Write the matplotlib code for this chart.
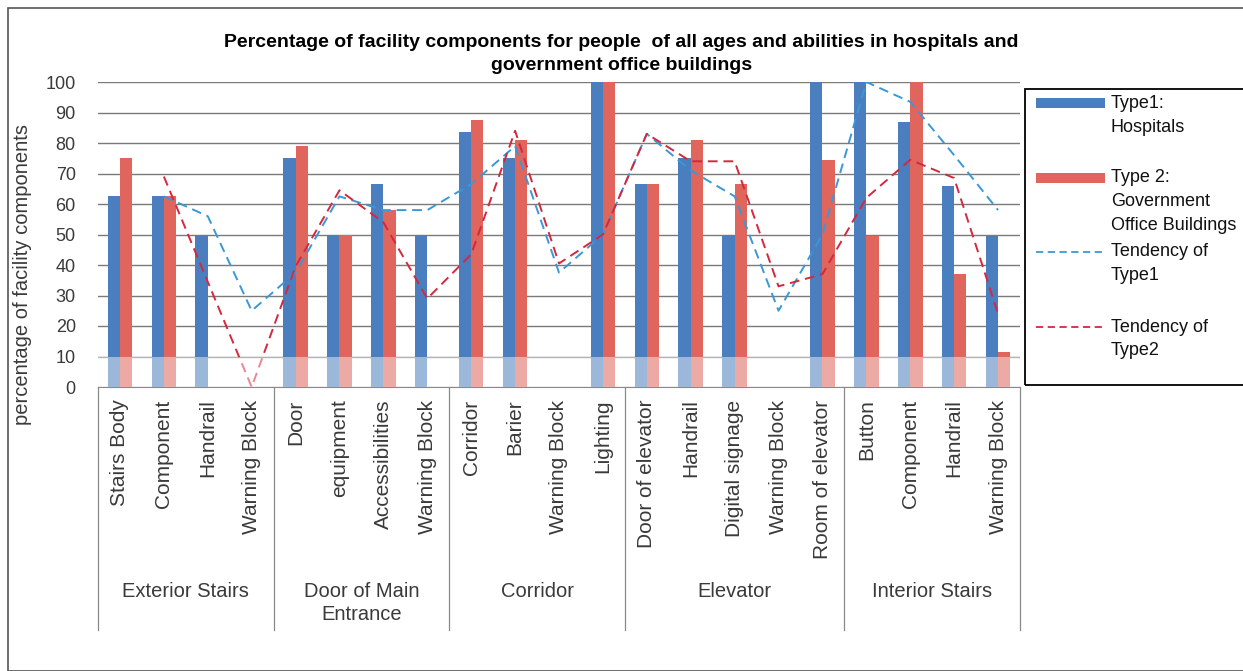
import numpy as np
import matplotlib
matplotlib.use("Agg")
import matplotlib.pyplot as plt
from matplotlib.patches import Rectangle
from matplotlib.lines import Line2D

plt.rcParams['font.family'] = ['Liberation Sans', 'DejaVu Sans']

# categories (multi-level axis)
items = ["Stairs Body", "Component", "Handrail", "Warning Block",
         "Door", "equipment", "Accessibilities", "Warning Block",
         "Corridor", "Barier", "Warning Block", "Lighting",
         "Door of elevator", "Handrail", "Digital signage", "Warning Block", "Room of elevator",
         "Button", "Component", "Handrail", "Warning Block"]
groups = ["Exterior Stairs", "Door of Main\nEntrance", "Corridor", "Elevator", "Interior Stairs"]
group_sizes = [4, 4, 4, 5, 4]

# bar values
type1 = [62.5, 62.5, 50, 0, 75, 50, 66.5, 50, 83.5, 75, 0, 100,
         66.5, 75, 50, 0, 100, 100, 87, 66, 49.5]
type2 = [75, 62.5, 0, 0, 79, 50, 58, 0, 87.5, 81, 0, 100,
         66.5, 81, 66.5, 0, 74.5, 49.5, 100, 37, 11.5]

# tendency lines
trend1_pos = list(range(1, 21))
trend1 = [62.5, 56, 25, 37.5, 62.5, 58, 58, 66.5, 79, 37.5, 50,
          83, 71, 62.5, 25, 50, 100, 93.5, 76, 58]
trend2_pos = [1] + list(range(3, 21))
trend2 = [69, 0, 39.5, 64.5, 54, 29, 43.5, 84, 40.5, 50,
          83, 74, 74, 33, 37, 62, 74.5, 68.5, 24]

legend_labels = ['Type1:\nHospitals', 'Type 2:\nGovernment\nOffice Buildings',
                 'Tendency of\nType1', 'Tendency of\nType2']

c_blue = '#4a7ebf'
c_red = '#e0655d'
c_tblue = '#3a98d6'
c_tred = '#d4283e'
c_text = '#3a3a3a'

W, H = 1243, 671
fig = plt.figure(figsize=(W / 100, H / 100), dpi=100)


def fx(px):
    return px / W


def fy(py):
    return 1 - py / H


# outer frame of the chart
fig.add_artist(Rectangle((fx(8), 0), 1.2, fy(8), transform=fig.transFigure,
                         fill=False, edgecolor='#555555', linewidth=1.2))

x0, x1, ytop, ybot = 98, 1020, 82, 387
ax = fig.add_axes([fx(x0), fy(ybot), (x1 - x0) / W, (ybot - ytop) / H])

x = np.arange(len(items))
bw = 0.28
ax.bar(x - bw / 2, type1, bw, color=c_blue, zorder=2)
ax.bar(x + bw / 2, type2, bw, color=c_red, zorder=2)
ax.plot(trend1_pos, trend1, '--', color=c_tblue, lw=1.4, dashes=(5, 3), zorder=3)
ax.plot(trend2_pos, trend2, '--', color=c_tred, lw=1.4, dashes=(5, 3), zorder=3)

# pale band at the bottom of the plot
ax.axhspan(0, 10, color='white', alpha=0.45, zorder=4, lw=0)

ax.set_xlim(-0.5, len(items) - 0.5)
ax.set_ylim(0, 100)
ax.set_yticks(np.arange(0, 101, 10))
ax.yaxis.grid(True, color='#7a7a7a', lw=1.0)
ax.set_axisbelow(True)
ax.tick_params(axis='y', length=0, labelsize=13, labelcolor=c_text, pad=16)
ax.set_xticks(x)
ax.set_xticklabels(items, rotation=90, fontsize=15, color=c_text)
ax.tick_params(axis='x', length=0, pad=9)
for s in ['top', 'right', 'left']:
    ax.spines[s].set_visible(False)
ax.spines['bottom'].set_color('#8a8a8a')

ax.set_ylabel('percentage of facility components', fontsize=14.5, color=c_text)
ax.yaxis.set_label_coords((32 - x0) / (x1 - x0), 0.37)

# group separators and group labels
trans = ax.get_xaxis_transform()
hgt = ybot - ytop
edges = np.concatenate([[0], np.cumsum(group_sizes)]) - 0.5
for e in edges:
    ax.plot([e, e], [0, -(630 - ybot) / hgt], color='#8a8a8a', lw=0.9,
            transform=trans, clip_on=False)
for i, g in enumerate(groups):
    mid = (edges[i] + edges[i + 1]) / 2
    ax.text(mid, -(582 - ybot) / hgt, g, transform=trans, ha='center', va='top',
            fontsize=14.5, color=c_text, linespacing=1.3)

fig.text(0.5, fy(54), 'Percentage of facility components for people  of all ages and abilities in hospitals and\ngovernment office buildings',
         ha='center', va='center', fontsize=14, fontweight='bold', linespacing=1.4)

# legend box drawn by hand to keep the layout of the original
fig.add_artist(Rectangle((fx(1025), fy(385)), 1, fy(89) - fy(385), transform=fig.transFigure,
                         fill=False, edgecolor='black', linewidth=1.3))
rows = [103, 178, 252, 327]
for k, (row, lab) in enumerate(zip(rows, legend_labels)):
    if k < 2:
        fig.add_artist(Rectangle((fx(1036), fy(row + 5)), fx(1105) - fx(1036), fy(row - 5) - fy(row + 5),
                                 transform=fig.transFigure, color=[c_blue, c_red][k], lw=0))
    else:
        fig.add_artist(Line2D([fx(1036), fx(1105)], [fy(row), fy(row)], transform=fig.transFigure,
                              color=[c_tblue, c_tred][k - 2], lw=1.3, ls='--', dashes=(4, 2.5)))
    for j, line in enumerate(lab.split('\n')):
        fig.text(fx(1111), fy(row + 24 * j), line, ha='left', va='center', fontsize=13,
                 color='#111111')

fig.savefig('out.png', dpi=100)
